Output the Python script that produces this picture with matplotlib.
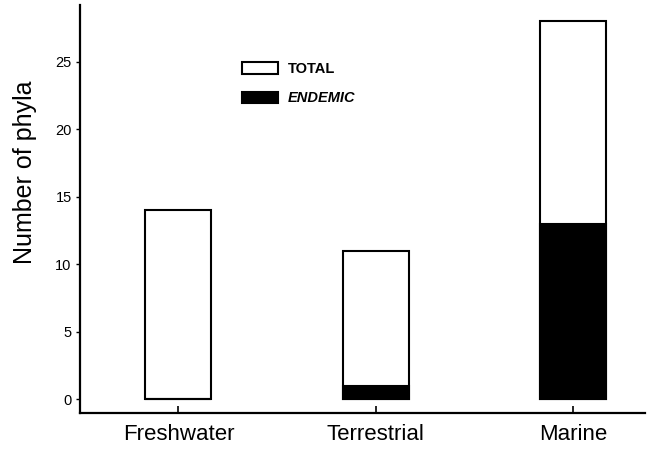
import matplotlib
matplotlib.use("Agg")
import matplotlib.pyplot as plt
import numpy as np

categories = ["Freshwater", "Terrestrial", "Marine"]
total = [14, 11, 28]
endemic = [0, 1, 13]
yticks = [0, 5, 10, 15, 20, 25]

plt.rcParams['font.family'] = ['Liberation Sans', 'DejaVu Sans']

fig = plt.figure(figsize=(6.53, 4.51), dpi=100)
ax = fig.add_axes([80/653, 1-413/451, (645-80)/653, (413-5)/451])

x = np.arange(len(categories))
w = 0.335
b1 = ax.bar(x, total, width=w, color='white', edgecolor='black', linewidth=1.5, label='TOTAL', zorder=2)
b2 = ax.bar(x, endemic, width=w, color='black', edgecolor='black', linewidth=1.5, label='ENDEMIC', zorder=3)

ax.set_xlim(-0.499, 2.365)
ax.set_ylim(-1.01, 29.2)
ax.set_xticks(x)
ax.set_xticklabels(categories, fontsize=16)
ax.set_yticks(yticks)
ax.set_yticklabels([str(v) for v in yticks], fontsize=10.5)

for s in ['top', 'right']:
    ax.spines[s].set_visible(False)
for s in ['left', 'bottom']:
    ax.spines[s].set_linewidth(1.6)

ax.tick_params(axis='x', direction='in', length=5, width=1.2, pad=8)
ax.tick_params(axis='y', direction='out', length=3, width=1.0, pad=3)

ax.set_ylabel("Number of phyla", fontsize=18)
ax.yaxis.set_label_coords(-0.076, 0.589)

leg = ax.legend(handles=[b1, b2], loc='upper left',
                bbox_to_anchor=(241.7/653, 1-62/451), bbox_transform=fig.transFigure,
                frameon=False, borderpad=0, borderaxespad=0,
                handlelength=2.47, handleheight=0.82, handletextpad=0.7,
                labelspacing=1.05, prop={'size': 10.5, 'weight': 'bold'})
texts = leg.get_texts()
texts[1].set_style('italic')

fig.savefig("out.png", dpi=100, facecolor='white')
